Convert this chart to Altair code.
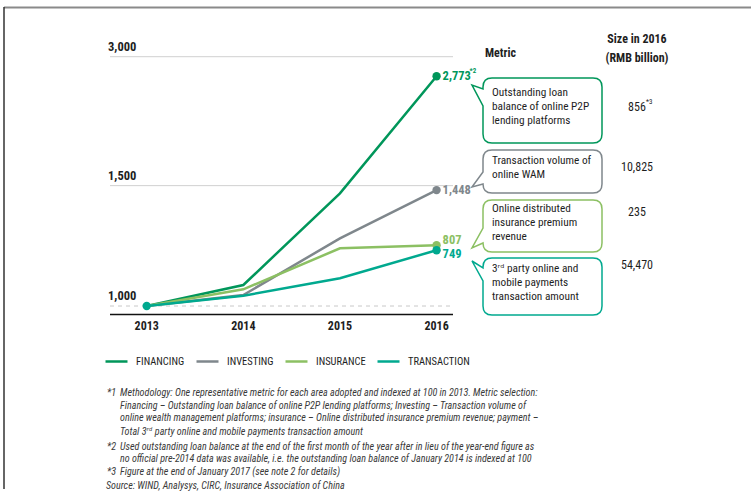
import altair as alt
import pandas as pd

# ---------------- data ----------------
years = [2013, 2014, 2015, 2016]
series_names = ["FINANCING", "INVESTING", "INSURANCE", "TRANSACTION"]
financing = [100, 344, 1411, 2773]
investing = [100, 228, 887, 1448]
insurance = [100, 294, 771, 807]
transaction = [100, 220, 422, 749]
series_colors = ["#00965A", "#7F878C", "#8CC063", "#00A98F"]

end_labels = ["2,773", "1,448", "807", "749"]
ytick_values = [100, 1500, 3000]
ytick_labels = ["1,000", "1,500", "3,000"]

metrics = [
    "Outstanding loan\nbalance of online P2P\nlending platforms",
    "Transaction volume of\nonline WAM",
    "Online distributed\ninsurance premium\nrevenue",
    "3ʳᵈ party online and\nmobile payments\ntransaction amount",
]
sizes_2016 = ["856", "10,825", "235", "54,470"]

notes = [
    ("*1", "Methodology: One representative metric for each area adopted and indexed at 100 in 2013. Metric selection:"),
    ("", "Financing – Outstanding loan balance of online P2P lending platforms; Investing – Transaction volume of"),
    ("", "online wealth management platforms; insurance – Online distributed insurance premium revenue; payment –"),
    ("", "Total 3ʳᵈ party online and mobile payments transaction amount"),
    ("*2", "Used outstanding loan balance at the end of the first month of the year after in lieu of the year-end figure as"),
    ("", "no official pre-2014 data was available, i.e. the outstanding loan balance of January 2014 is indexed at 100"),
    ("*3", "Figure at the end of January 2017 (see note 2 for details)"),
]
source = "Source: WIND, Analysys, CIRC, Insurance Association of China"

# ---------------- tables ----------------
vals = {"FINANCING": financing, "INVESTING": investing,
        "INSURANCE": insurance, "TRANSACTION": transaction}
rows = []
for s in series_names:
    for yr, v in zip(years, vals[s]):
        rows.append({"year": yr, "value": v, "series": s})
df = pd.DataFrame(rows)
df_end = pd.DataFrame({"year": [2016] * 4,
                       "value": [vals[s][-1] for s in series_names],
                       "series": series_names, "label": end_labels})

NARROW = "Roboto Condensed, DejaVu Sans Condensed, sans-serif"
DARK = "#1e1e1e"

xs = alt.Scale(domain=[2012.62, 2016.17], range=[110, 453], nice=False, zero=False)
ys = alt.Scale(domain=[0, 3000], range=[314.6, 56.7], nice=False, zero=False)
cs = alt.Scale(domain=series_names, range=series_colors)

X = alt.X("year:Q", scale=xs, axis=None)
Y = alt.Y("value:Q", scale=ys, axis=None)

layers = []

# frame
layers.append(alt.Chart(pd.DataFrame({"a": [0]})).mark_rule(color="#8a8a8a", strokeWidth=2).encode(
    x=alt.value(4), x2=alt.value(751), y=alt.value(7.5)))
layers.append(alt.Chart(pd.DataFrame({"a": [0]})).mark_rule(color="#333333", strokeWidth=1.5).encode(
    x=alt.value(4), y=alt.value(7), y2=alt.value(489)))

# gridlines
grid_df = pd.DataFrame({"value": [3000, 1500]})
layers.append(alt.Chart(grid_df).mark_rule(color="#d0d0d0", strokeWidth=1).encode(
    y=Y, x=alt.value(110), x2=alt.value(453)))
layers.append(alt.Chart(pd.DataFrame({"value": [100]})).mark_rule(
    color="#c8c8c8", strokeWidth=1, strokeDash=[4, 4]).encode(
    y=Y, x=alt.value(110), x2=alt.value(453)))
layers.append(alt.Chart(pd.DataFrame({"value": [0]})).mark_rule(color="#111111", strokeWidth=1.5).encode(
    y=Y, x=alt.value(110), x2=alt.value(453)))

# y labels
layers.append(alt.Chart(pd.DataFrame({"value": ytick_values, "lab": ytick_labels})).mark_text(
    align="left", baseline="middle", dy=-10, font=NARROW, fontSize=12.5, fontWeight="bold", color=DARK).encode(
    y=Y, x=alt.value(108), text="lab:N"))
# x labels
layers.append(alt.Chart(pd.DataFrame({"year": years})).mark_text(
    align="center", baseline="middle", font=NARROW, fontSize=12, fontWeight="bold", color=DARK).encode(
    x=X, y=alt.value(326), text=alt.Text("year:Q", format="d")))

# lines
line = alt.Chart(df).mark_line(strokeWidth=2.5).encode(
    x=X, y=Y,
    color=alt.Color("series:N", scale=cs, sort=series_names,
                    legend=alt.Legend(orient="none", legendX=104, legendY=349, direction="horizontal",
                                      title=None, symbolType="stroke", symbolSize=484,
                                      symbolStrokeWidth=2.5, labelFont=NARROW, labelFontSize=10.5,
                                      labelColor=DARK, columnPadding=6, labelOffset=7,
                                      padding=0, values=series_names)),
    order=alt.Order("year:Q"),
    detail="series:N",
)
layers.append(line)

pts = alt.Chart(df).transform_filter("datum.year == 2016").mark_circle(
    size=70, opacity=1).encode(
    x=X, y=Y, color=alt.Color("series:N", scale=cs, legend=None))
layers.append(pts)
layers.append(alt.Chart(df).transform_filter("datum.year == 2013 && datum.series == 'TRANSACTION'").mark_circle(
    size=70, opacity=1).encode(x=X, y=Y, color=alt.Color("series:N", scale=cs, legend=None)))

# end labels
dys = {"FINANCING": 0, "INVESTING": 0, "INSURANCE": -5, "TRANSACTION": 4}
for s in series_names:
    layers.append(alt.Chart(df_end).transform_filter(f"datum.series == '{s}'").mark_text(
        align="left", baseline="middle", dx=6, dy=dys[s], font=NARROW, fontSize=12.5,
        fontWeight="bold").encode(
        x=X, y=Y, text="label:N", color=alt.Color("series:N", scale=cs, legend=None)))
layers.append(alt.Chart(df_end).transform_filter("datum.series == 'FINANCING'").mark_text(
    align="left", baseline="middle", dx=33, dy=-5, font=NARROW, fontSize=7, fontWeight="bold",
    text="*2").encode(x=X, y=Y, color=alt.Color("series:N", scale=cs, legend=None)))


def txt(s, x, y, **kw):
    return alt.Chart(pd.DataFrame({"t": [s]})).mark_text(**kw).encode(
        x=alt.value(x), y=alt.value(y), text="t:N")


# headers
layers.append(txt("Metric", 485, 53, align="left", baseline="middle", font=NARROW, fontSize=12,
                  fontWeight="bold", color=DARK))
layers.append(txt("Size in 2016", 637, 39, align="center", baseline="middle", font=NARROW, fontSize=12,
                  fontWeight="bold", color=DARK))
layers.append(txt("(RMB billion)", 637, 58, align="center", baseline="middle", font=NARROW, fontSize=12,
                  fontWeight="bold", color=DARK))

# callout bubbles
boxes = [  # top, bottom, tip_y, attach_a, attach_b
    (78, 143, 85, 89, 106),
    (150, 193, 187, 172, 184),
    (200, 252, 248, 228, 243),
    (258, 315, 261, 268, 281),
]
xl, xr, tipx, r = 483, 602, 472, 9


def bubble(top, bot, ty, ya, yb):
    return (f"M{xl + r},{top} L{xr - r},{top} Q{xr},{top} {xr},{top + r} "
            f"L{xr},{bot - r} Q{xr},{bot} {xr - r},{bot} L{xl + r},{bot} Q{xl},{bot} {xl},{bot - r} "
            f"L{xl},{yb} L{tipx},{ty} L{xl},{ya} L{xl},{top + r} Q{xl},{top} {xl + r},{top} Z")


text_y = [86.5, 154.5, 202.5, 262.5]
size_y = [107, 167, 212, 265]
for i, (top, bot, ty, ya, yb) in enumerate(boxes):
    layers.append(alt.Chart(pd.DataFrame({"a": [0]})).mark_point(
        shape=bubble(top, bot, ty, ya, yb), size=4, filled=True, fill="white", fillOpacity=1,
        stroke=series_colors[i], strokeWidth=1.5, opacity=1).encode(
        x=alt.value(0), y=alt.value(0)))
    layers.append(txt(metrics[i], 492, text_y[i], align="left", baseline="top", lineBreak="\n",
                      lineHeight=14, font=NARROW, fontSize=11.3, color=DARK))
    layers.append(txt(sizes_2016[i], 637, size_y[i], align="center", baseline="middle", font=NARROW,
                      fontSize=12, color=DARK))
layers.append(txt("*3", 646, 102, align="left", baseline="middle", font=NARROW, fontSize=7,
                  color=DARK))

# footnotes
FN = 10.1
note_y = [393.3, 405.7, 418, 431.7, 446.7, 458.7, 471.7]
for (mk, body), yy in zip(notes, note_y):
    if mk:
        layers.append(txt(mk, 107, yy, align="left", baseline="middle", font=NARROW, fontSize=FN,
                          fontStyle="italic", color="#3a3a3a"))
    layers.append(txt(body, 120, yy, align="left", baseline="middle", font=NARROW, fontSize=FN,
                      fontStyle="italic", color="#3a3a3a"))
layers.append(txt(source, 106, 486, align="left", baseline="middle", font=NARROW, fontSize=FN,
                  fontStyle="italic", color="#3a3a3a"))

chart = alt.layer(*layers).properties(
    width=751, height=493, autosize=alt.AutoSizeParams(type="none"), padding=0,
    background="white",
).configure_view(strokeWidth=0)

chart.save("out.html", embed_options={"renderer": "svg", "actions": False})
